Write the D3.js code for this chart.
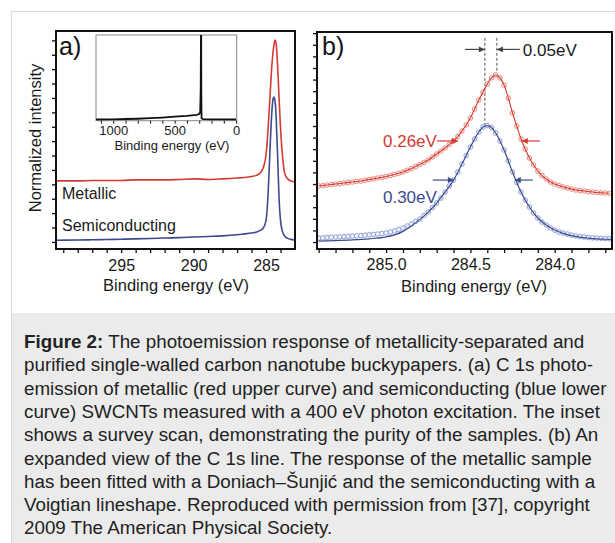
<!DOCTYPE html>
<html>
<head>
<meta charset="utf-8">
<script src="https://cdn.jsdelivr.net/npm/d3@7"></script>
<style>
  body { margin: 0; background: #fff; }
  svg { display: block; font-family: "Liberation Sans", Arial, sans-serif; }
</style>
</head>
<body>
<script>
// ---- panel a: C 1s line, wide range (binding energy in eV, normalized intensity)
var aEnergy = [299.5, 298, 297, 296, 295, 294, 293, 292, 291, 290, 289, 288, 287, 286.5, 286, 285.6, 285.4, 285.2,
  285.0, 284.9, 284.8, 284.7, 284.6, 284.5, 284.45, 284.4, 284.35, 284.3, 284.2, 284.1, 284.0, 283.9, 283.8,
  283.7, 283.5, 283.3, 283.0]
var aMetallic = [4.24, 4.24, 4.27, 4.27, 4.27, 4.31, 4.31, 4.31, 4.34, 4.38, 4.34, 4.38, 4.44, 4.48, 4.55, 4.65, 4.79, 5.14,
  6.04, 7.22, 8.82, 10.56, 12.22, 13.33, 13.70, 13.96, 14.03, 13.75, 12.22, 10.0, 7.92, 6.39, 5.35,
  4.72, 4.38, 4.24, 4.17]
var aSemi = [0.12, 0.14, 0.15, 0.17, 0.19, 0.21, 0.24, 0.27, 0.30, 0.34, 0.38, 0.42, 0.50, 0.56, 0.62, 0.70, 0.80, 0.95,
  1.50, 2.60, 4.60, 7.00, 9.00, 10.00, 10.07, 9.90, 9.50, 8.60, 6.00, 3.00, 1.50, 0.85, 0.55,
  0.40, 0.25, 0.18, 0.14]

// inset: survey scan
var surveyEnergy = [1140, 1000, 900, 800, 700, 600, 500, 400, 320, 300, 292, 288, 286, 285.5, 284.5, 283, 281, 270, 200, 100, 0]
var surveyInt = [1.4, 1.6, 2.0, 2.3, 2.9, 3.7, 4.7, 5.7, 6.9, 7.8, 10, 36, 94, 150, 150, 30, 3, 1.8, 1.6, 1.5, 1.4]

// ---- panel b: expanded C 1s line
var bEnergy = [285.400, 285.375, 285.350, 285.325, 285.300, 285.275, 285.250, 285.225, 285.200, 285.175,
  285.150, 285.125, 285.100, 285.075, 285.050, 285.025, 285.000, 284.975, 284.950, 284.925,
  284.900, 284.875, 284.850, 284.825, 284.800, 284.775, 284.750, 284.725, 284.700, 284.675,
  284.650, 284.625, 284.600, 284.575, 284.550, 284.525, 284.500, 284.475, 284.450, 284.425,
  284.400, 284.375, 284.350, 284.325, 284.300, 284.275, 284.250, 284.225, 284.200, 284.175,
  284.150, 284.125, 284.100, 284.075, 284.050, 284.025, 284.000, 283.975, 283.950, 283.925,
  283.900, 283.875, 283.850, 283.825, 283.800, 283.775, 283.750, 283.725, 283.700, 283.675]
var bMetallic = [4.83, 4.87, 4.91, 4.96, 5.00, 5.04, 5.09, 5.13, 5.17, 5.22,
  5.26, 5.32, 5.39, 5.45, 5.52, 5.58, 5.65, 5.73, 5.82, 5.92,
  6.03, 6.18, 6.34, 6.51, 6.68, 6.87, 7.07, 7.33, 7.59, 7.84,
  8.10, 8.41, 8.71, 9.09, 9.57, 10.09, 10.69, 11.47, 12.24, 12.93,
  13.62, 14.14, 14.40, 14.14, 13.53, 12.41, 11.12, 10.00, 8.88, 8.02,
  7.24, 6.64, 6.12, 5.73, 5.43, 5.17, 5.00, 4.87, 4.74, 4.66,
  4.57, 4.48, 4.44, 4.40, 4.35, 4.31, 4.27, 4.24, 4.22, 4.20]
var bSemi = [0.34, 0.36, 0.39, 0.41, 0.43, 0.45, 0.47, 0.49, 0.52, 0.53,
  0.56, 0.59, 0.62, 0.66, 0.69, 0.73, 0.78, 0.86, 0.95, 1.07,
  1.21, 1.38, 1.55, 1.77, 1.98, 2.28, 2.59, 2.97, 3.36, 3.79,
  4.31, 4.83, 5.34, 6.03, 6.72, 7.46, 8.19, 8.88, 9.48, 9.91,
  10.04, 9.87, 9.40, 8.71, 7.93, 6.98, 6.03, 5.13, 4.31, 3.62,
  3.02, 2.50, 2.07, 1.72, 1.47, 1.21, 1.03, 0.86, 0.78, 0.69,
  0.60, 0.53, 0.47, 0.43, 0.39, 0.36, 0.34, 0.32, 0.30, 0.28]
// Voigt fit of the semiconducting sample (lies a little under the data in the tails)
var semiFitEnergy = [285.40, 285.30, 285.20, 285.10, 285.00, 284.95, 284.90, 284.85, 284.80, 284.75, 284.70, 284.65,
  284.60, 284.55, 284.50, 284.475, 284.45, 284.425, 284.40, 284.375, 284.35, 284.30, 284.25, 284.20,
  284.15, 284.10, 284.05, 284.00, 283.95, 283.90, 283.85, 283.80, 283.75, 283.70, 283.65]
var semiFit = [0.08, 0.12, 0.18, 0.28, 0.45, 0.62, 0.92, 1.38, 1.95, 2.58, 3.36, 4.31,
  5.34, 6.72, 8.19, 8.88, 9.48, 9.91, 10.04, 9.87, 9.40, 7.93, 6.03, 4.31,
  3.02, 2.07, 1.47, 1.03, 0.75, 0.55, 0.42, 0.34, 0.28, 0.24, 0.22]

// peak positions and widths marked in b
var peakSemi = 284.414, peakMetal = 284.343
var widthMetal = [284.574, 284.195], widthMetalLevel = 8.71
var widthSemi = [284.598, 284.237], widthSemiLevel = 5.34

var captionLines = [
  "The photoemission response of metallicity-separated and",
  "purified single-walled carbon nanotube buckypapers. (a) C 1s photo-",
  "emission of metallic (red upper curve) and semiconducting (blue lower",
  "curve) SWCNTs measured with a 400 eV photon excitation. The inset",
  "shows a survey scan, demonstrating the purity of the samples. (b) An",
  "expanded view of the C 1s line. The response of the metallic sample",
  "has been fitted with a Doniach\u2013\u0160unji\u0107 and the semiconducting with a",
  "Voigtian lineshape. Reproduced with permission from [37], copyright",
  "2009 The American Physical Society."
]

var red = "#d43a32", redLight = "#e88a80", blue = "#3b4b8e", blueLight = "#8e9fd0"

var svg = d3.select("body").append("svg")
  .attr("width", 615)
  .attr("height", 543)

// frame of the figure + caption box
svg.append("rect").attr("x", 11).attr("y", 313).attr("width", 604).attr("height", 230).attr("fill", "#ebebeb")
svg.append("line").attr("x1", 11.5).attr("x2", 11.5).attr("y1", 11).attr("y2", 543).attr("stroke", "#d9d9d9")
svg.append("line").attr("x1", 11).attr("x2", 615).attr("y1", 11.5).attr("y2", 11.5).attr("stroke", "#d9d9d9")

var defs = svg.append("defs")
function marker(id, color) {
  defs.append("marker")
    .attr("id", id)
    .attr("viewBox", "0 0 10 10")
    .attr("refX", 10).attr("refY", 5)
    .attr("markerWidth", 6).attr("markerHeight", 5)
    .attr("orient", "auto")
    .append("path").attr("d", "M0,0L10,5L0,10z").attr("fill", color)
}
marker("ah-gray", "#444")
marker("ah-red", red)
marker("ah-blue", blue)

function clip(id, x0, y0, x1, y1) {
  defs.append("clipPath").attr("id", id)
    .append("rect").attr("x", x0).attr("y", y0).attr("width", x1 - x0).attr("height", y1 - y0)
}

function styleAxis(g, fontSize) {
  g.select(".domain").remove()
  g.selectAll(".tick line").attr("stroke", "#111").attr("stroke-width", 1.3)
  g.selectAll(".tick text").attr("fill", "#1a1a1a").style("font-size", fontSize + "px")
    .style("font-family", '"Liberation Sans", Arial, sans-serif')
}

// ================= panel a =================
var xA = d3.scaleLinear().domain([299.5, 283]).range([56, 295])
var yA = d3.scaleLinear().domain([-0.49, 14.65]).range([249, 31])
clip("clipA", 56, 31, 295, 249)

var gA = svg.append("g")

gA.append("g")
  .attr("transform", "translate(0,249)")
  .call(d3.axisBottom(xA)
    .tickValues(d3.range(284, 300))
    .tickSize(4)
    .tickPadding(7)
    .tickFormat(function(d) { return d % 5 === 0 ? d : "" }))
  .call(styleAxis, 16)

gA.append("g")
  .attr("transform", "translate(56,0)")
  .call(d3.axisLeft(yA).tickValues(d3.range(0, 15)).tickSize(4).tickFormat(""))
  .call(styleAxis, 16)

var lineA = function(values) {
  return d3.line()
    .x(function(d, i) { return xA(aEnergy[i]) })
    .y(function(d) { return yA(d) })
    .curve(d3.curveMonotoneX)(values)
}

var plotA = gA.append("g").attr("clip-path", "url(#clipA)")
plotA.append("path").attr("d", lineA(aMetallic)).attr("fill", "none").attr("stroke", red).attr("stroke-width", 1.6)
plotA.append("path").attr("d", lineA(aSemi)).attr("fill", "none").attr("stroke", blue).attr("stroke-width", 1.6)

gA.append("text").attr("x", 62).attr("y", 199).text("Metallic").style("font-size", "16px").attr("fill", "#1a1a1a")
gA.append("text").attr("x", 62).attr("y", 231).text("Semiconducting").style("font-size", "16px").attr("fill", "#1a1a1a")

// inset
var xI = d3.scaleLinear().domain([1140, -5]).range([96, 236.7])
var yI = d3.scaleLinear().domain([0, 100]).range([120.7, 35])
clip("clipI", 96, 35, 236.7, 120.7)

gA.append("rect").attr("x", 96).attr("y", 35).attr("width", 140.7).attr("height", 85.7)
  .attr("fill", "#fff").attr("stroke", "#888").attr("stroke-width", 1)

gA.append("g")
  .attr("transform", "translate(0,120.7)")
  .call(d3.axisBottom(xI)
    .tickValues(d3.range(0, 1101, 100))
    .tickSize(3)
    .tickPadding(2)
    .tickFormat(function(d) { return d % 500 === 0 ? d : "" }))
  .call(styleAxis, 13)
  .selectAll(".tick line").attr("stroke-width", 1)

gA.append("g").attr("clip-path", "url(#clipI)")
  .append("path")
  .attr("d", d3.line()
    .x(function(d, i) { return xI(surveyEnergy[i]) })
    .y(function(d) { return yI(d) })(surveyInt))
  .attr("fill", "none").attr("stroke", "#111").attr("stroke-width", 1.8)

gA.append("text").attr("x", 172).attr("y", 150).attr("text-anchor", "middle")
  .text("Binding energy (eV)").style("font-size", "13px").attr("fill", "#1a1a1a")

gA.append("rect").attr("x", 56).attr("y", 31).attr("width", 239).attr("height", 218)
  .attr("fill", "none").attr("stroke", "#111").attr("stroke-width", 2)

gA.append("text").attr("x", 59).attr("y", 55).text("a)").style("font-size", "25px").attr("fill", "#111")

gA.append("text").attr("x", 176).attr("y", 291).attr("text-anchor", "middle")
  .text("Binding energy (eV)").style("font-size", "16.5px").attr("fill", "#1a1a1a")

svg.append("text")
  .attr("transform", "translate(41,138) rotate(-90)")
  .attr("text-anchor", "middle")
  .text("Normalized intensity").style("font-size", "16.5px").attr("fill", "#1a1a1a")

// ================= panel b =================
var xB = d3.scaleLinear().domain([285.41, 283.66]).range([317, 612])
var yB = d3.scaleLinear().domain([-0.6, 18.1]).range([249, 32])
clip("clipB", 317, 32, 612, 249)

var gB = svg.append("g")

gB.append("g")
  .attr("transform", "translate(0,249)")
  .call(d3.axisBottom(xB)
    .tickValues(d3.range(2837, 2855).map(function(d) { return d / 10 }))
    .tickSize(4)
    .tickPadding(6)
    .tickFormat(function(d) { return Math.round(d * 10) % 5 === 0 ? d3.format(".1f")(d) : "" }))
  .call(styleAxis, 16)

gB.append("g")
  .attr("transform", "translate(317,0)")
  .call(d3.axisLeft(yB).tickValues(d3.range(0, 19)).tickSize(4).tickFormat(""))
  .call(styleAxis, 16)

var plotB = gB.append("g").attr("clip-path", "url(#clipB)")

function lineB(energies, values) {
  return d3.line()
    .x(function(d, i) { return xB(energies[i]) })
    .y(function(d) { return yB(d) })
    .curve(d3.curveMonotoneX)(values)
}

// dashed peak markers
plotB.append("line")
  .attr("x1", xB(peakSemi)).attr("x2", xB(peakSemi))
  .attr("y1", yB(17.6)).attr("y2", yB(10.04))
  .attr("stroke", "#555").attr("stroke-width", 1).attr("stroke-dasharray", "3,2")
plotB.append("line")
  .attr("x1", xB(peakMetal)).attr("x2", xB(peakMetal))
  .attr("y1", yB(17.6)).attr("y2", yB(14.4))
  .attr("stroke", "#555").attr("stroke-width", 1).attr("stroke-dasharray", "3,2")

plotB.selectAll(".cm").data(bMetallic).enter().append("circle")
  .attr("cx", function(d, i) { return xB(bEnergy[i]) })
  .attr("cy", function(d) { return yB(d) })
  .attr("r", 2.3)
  .attr("fill", "#fff4f1").attr("stroke", redLight).attr("stroke-width", 1)

plotB.selectAll(".cs").data(bSemi).enter().append("circle")
  .attr("cx", function(d, i) { return xB(bEnergy[i]) })
  .attr("cy", function(d) { return yB(d) })
  .attr("r", 2.3)
  .attr("fill", "#f3f5ff").attr("stroke", blueLight).attr("stroke-width", 1)

plotB.append("path").attr("d", lineB(bEnergy, bMetallic)).attr("fill", "none").attr("stroke", red).attr("stroke-width", 1.1)
plotB.append("path").attr("d", lineB(semiFitEnergy, semiFit)).attr("fill", "none").attr("stroke", blue).attr("stroke-width", 1.2)

// arrows
function arrow(x1, x2, y, color, id) {
  gB.append("line")
    .attr("x1", x1).attr("x2", x2).attr("y1", y).attr("y2", y)
    .attr("stroke", color).attr("stroke-width", 1.2)
    .attr("marker-end", "url(#" + id + ")")
}
var shiftY = yB(16.6)
arrow(xB(peakSemi) - 20, xB(peakSemi), shiftY, "#444", "ah-gray")
arrow(xB(peakMetal) + 23, xB(peakMetal), shiftY, "#444", "ah-gray")
gB.append("text").attr("x", xB(peakMetal) + 26).attr("y", shiftY + 7)
  .text("0.05eV").style("font-size", "17px").attr("fill", "#1a1a1a")

var ym = yB(widthMetalLevel)
arrow(xB(widthMetal[0]) - 21, xB(widthMetal[0]), ym, red, "ah-red")
arrow(xB(widthMetal[1]) + 18, xB(widthMetal[1]), ym, red, "ah-red")
gB.append("text").attr("x", xB(widthMetal[0]) - 21).attr("y", ym + 6).attr("text-anchor", "end")
  .text("0.26eV").style("font-size", "17px").attr("fill", red)

var ys = yB(widthSemiLevel)
arrow(xB(widthSemi[0]) - 21, xB(widthSemi[0]), ys, blue, "ah-blue")
arrow(xB(widthSemi[1]) + 18, xB(widthSemi[1]), ys, blue, "ah-blue")
gB.append("text").attr("x", xB(widthSemi[0]) - 17).attr("y", ys + 23).attr("text-anchor", "end")
  .text("0.30eV").style("font-size", "17px").attr("fill", blue)

gB.append("rect").attr("x", 317).attr("y", 32).attr("width", 295).attr("height", 217)
  .attr("fill", "none").attr("stroke", "#111").attr("stroke-width", 2)

gB.append("text").attr("x", 322).attr("y", 55).text("b)").style("font-size", "25px").attr("fill", "#111")

gB.append("text").attr("x", 474).attr("y", 292).attr("text-anchor", "middle")
  .text("Binding energy (eV)").style("font-size", "16.5px").attr("fill", "#1a1a1a")

// ================= caption =================
var cap = svg.append("g").style("font-size", "18.8px").attr("fill", "#222")
cap.selectAll("text").data(captionLines).enter().append("text")
  .attr("x", 24)
  .attr("y", function(d, i) { return 348 + i * 23.3 })
  .each(function(d, i) {
    var t = d3.select(this)
    if (i === 0) {
      t.append("tspan").attr("font-weight", "bold").text("Figure 2:")
      t.append("tspan").text(" " + d)
    } else {
      t.text(d)
    }
  })
</script>
</body>
</html>
